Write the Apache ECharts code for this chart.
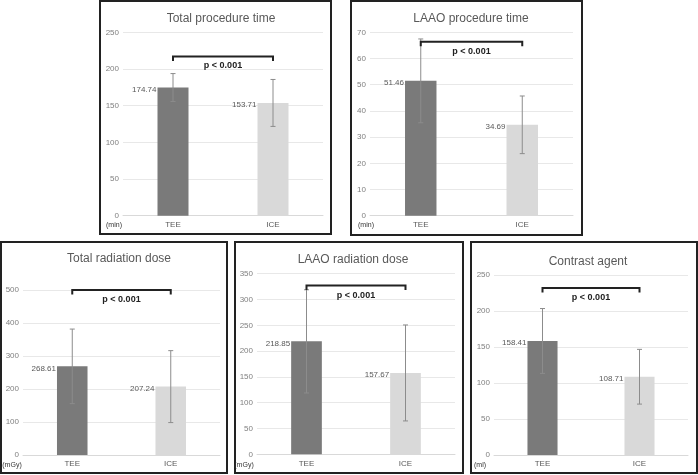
<!DOCTYPE html>
<html>
<head>
<meta charset="utf-8">
<script src="https://cdn.jsdelivr.net/npm/echarts@6/dist/echarts.min.js"></script>
<style>
  html, body { margin: 0; padding: 0; background: #fff; }
  #chart { width: 698px; height: 475px; }
</style>
</head>
<body>
<div id="chart"></div>
<script>
// chart data
const categories = ['TEE', 'ICE']
const titles = ['Total procedure time', 'LAAO procedure time', 'Total radiation dose', 'LAAO radiation dose', 'Contrast agent']
const units = ['(min)', '(min)', '(mGy)', '(mGy)', '(ml)']
const teeMean = [174.74, 51.46, 268.61, 218.85, 158.41]
const iceMean = [153.71, 34.69, 207.24, 157.67, 108.71]
const teeSD = [19, 16, 113, 100, 45]
const iceSD = [32, 11, 109, 93, 38]
const yMax = [250, 70, 500, 350, 250]
const yStep = [50, 10, 100, 50, 50]
const bracketLevel = [217, 66.4, 500, 327, 232]
const pLabel = 'p < 0.001'

// layout (px)
const boxes = [
  [100, 1, 231, 233], [351, 1, 231, 234],
  [1, 242, 226, 231], [235, 242, 228, 231], [471, 242, 226, 231]
]
const grids = [
  { left: 123, top: 32.3, width: 200, height: 183.4 },
  { left: 370, top: 32.3, width: 203, height: 183.4 },
  { left: 23, top: 290, width: 197, height: 165 },
  { left: 257, top: 273.7, width: 198, height: 180.6 },
  { left: 494, top: 275, width: 194, height: 180 }
]
const titlePos = [[216, 8], [466, 8], [114, 248], [348, 249], [583, 251]]
const unitPos = [[114, 225], [366, 225], [12, 465], [244, 465], [480, 465]]

const chart = echarts.init(document.getElementById('chart'))
const font = 'Liberation Sans, Arial, sans-serif'

const option = {
  animation: false,
  title: [], grid: [], xAxis: [], yAxis: [], series: [], graphic: []
}

titles.forEach((t, i) => {
  option.title.push({
    text: t, left: titlePos[i][0], top: titlePos[i][1], textAlign: 'center',
    textStyle: { fontSize: 12, fontWeight: 'normal', color: '#595959', fontFamily: font }
  })
  option.grid.push(grids[i])
  option.xAxis.push({
    type: 'category', gridIndex: i, data: categories,
    axisLine: { lineStyle: { color: '#d9d9d9' } },
    axisTick: { show: false },
    axisLabel: { fontSize: 8, color: '#595959', margin: 5, fontFamily: font }
  })
  option.yAxis.push({
    type: 'value', gridIndex: i, min: 0, max: yMax[i], interval: yStep[i],
    axisLine: { show: false }, axisTick: { show: false },
    splitLine: { lineStyle: { color: '#e8e8e8' } },
    axisLabel: { fontSize: 8, color: '#808080', margin: 4, fontFamily: font }
  })
  // bars
  option.series.push({
    type: 'bar', xAxisIndex: i, yAxisIndex: i, barWidth: '31%',
    data: [
      { value: teeMean[i], itemStyle: { color: '#7a7a7a' } },
      { value: iceMean[i], itemStyle: { color: '#d9d9d9' } }
    ],
    label: {
      show: true, position: [-1, 2], align: 'right', verticalAlign: 'middle',
      fontSize: 8, color: '#595959', fontFamily: font,
      formatter: p => p.value.toFixed(2)
    }
  })
  // error bars
  option.series.push({
    type: 'custom', xAxisIndex: i, yAxisIndex: i, z: 5,
    data: [
      [0, teeMean[i] - teeSD[i], teeMean[i] + teeSD[i]],
      [1, iceMean[i] - iceSD[i], iceMean[i] + iceSD[i]]
    ],
    renderItem: (params, api) => {
      const lo = api.coord([api.value(0), api.value(1)])
      const hi = api.coord([api.value(0), api.value(2)])
      const st = { stroke: '#8c8c8c', lineWidth: 1 }
      return {
        type: 'group', children: [
          { type: 'line', shape: { x1: hi[0], y1: hi[1], x2: lo[0], y2: lo[1] }, style: st },
          { type: 'line', shape: { x1: hi[0] - 2.5, y1: hi[1], x2: hi[0] + 2.5, y2: hi[1] }, style: st },
          { type: 'line', shape: { x1: lo[0] - 2.5, y1: lo[1], x2: lo[0] + 2.5, y2: lo[1] }, style: st }
        ]
      }
    }
  })
  // significance bracket
  option.series.push({
    type: 'custom', xAxisIndex: i, yAxisIndex: i, z: 6,
    data: [[0, 1, bracketLevel[i]]],
    renderItem: (params, api) => {
      const a = api.coord([api.value(0), api.value(2)])
      const b = api.coord([api.value(1), api.value(2)])
      return {
        type: 'group', children: [
          {
            type: 'polyline',
            shape: { points: [[a[0], a[1] + 4.5], [a[0], a[1]], [b[0], b[1]], [b[0], b[1] + 4.5]] },
            style: { stroke: '#222', lineWidth: 2, fill: null }
          },
          {
            type: 'text',
            style: {
              x: (a[0] + b[0]) / 2, y: a[1] + 9.5, text: pLabel,
              align: 'center', verticalAlign: 'middle',
              fontSize: 9, fontWeight: 'bold', fill: '#222', fontFamily: font
            }
          }
        ]
      }
    }
  })
  // panel frame and unit
  option.graphic.push({
    type: 'rect', shape: { x: boxes[i][0], y: boxes[i][1], width: boxes[i][2], height: boxes[i][3] },
    style: { fill: null, stroke: '#222', lineWidth: 2 }, silent: true
  })
  option.graphic.push({
    type: 'text', x: unitPos[i][0], y: unitPos[i][1],
    style: { text: units[i], align: 'center', verticalAlign: 'middle', fontSize: 7, fill: '#333', fontFamily: font }
  })
})

chart.setOption(option)
</script>
</body>
</html>
